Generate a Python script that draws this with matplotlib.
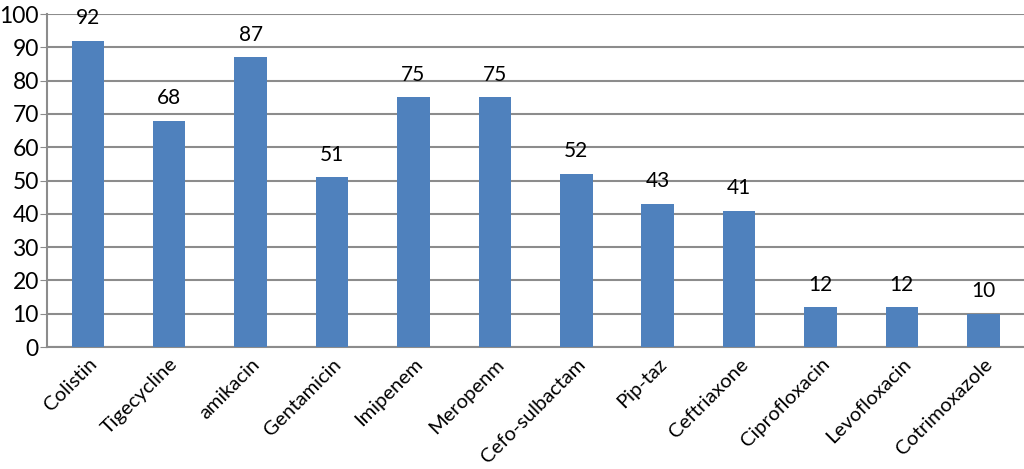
import matplotlib.pyplot as plt
import numpy as np

# Antibiotic susceptibility (%)
drugs = ['Colistin', 'Tigecycline', 'amikacin', 'Gentamicin', 'Imipenem',
         'Meropenm', 'Cefo-sulbactam', 'Pip-taz', 'Ceftriaxone',
         'Ciprofloxacin', 'Levofloxacin', 'Cotrimoxazole']
values = [92, 68, 87, 51, 75, 75, 52, 43, 41, 12, 12, 10]
yticks = list(range(0, 101, 10))

plt.rcParams['font.family'] = ['Lato', 'DejaVu Sans']

fig = plt.figure(figsize=(10.24, 4.69), dpi=100)
ax = fig.add_axes([0.046, 0.260, 0.954, 0.710])

x = np.arange(len(drugs))
bars = ax.bar(x, values, width=0.4, color='#4F81BD', zorder=3)

for b, v in zip(bars, values):
    ax.annotate(str(v), (b.get_x() + b.get_width() / 2, v),
                xytext=(0, 9), textcoords='offset points',
                ha='center', va='bottom', fontsize=15, clip_on=False)

ax.set_xlim(-0.5, len(drugs) - 0.5)
ax.set_ylim(0, 100)
ax.set_yticks(yticks)
ax.set_xticks(x)
ax.set_xticklabels(drugs, rotation=45, ha='right', rotation_mode='anchor',
                   fontsize=14.5)
ax.tick_params(axis='y', labelsize=16.5, length=5, color='#8c8c8c', pad=1)
ax.tick_params(axis='x', length=0, pad=6)

ax.grid(axis='y', color='#8c8c8c', linewidth=1.5, zorder=0)
for side in ['top', 'right']:
    ax.spines[side].set_visible(False)
for side in ['left', 'bottom']:
    ax.spines[side].set_color('#8c8c8c')
    ax.spines[side].set_linewidth(1.5)

plt.savefig('out.png', dpi=100)
plt.close()
